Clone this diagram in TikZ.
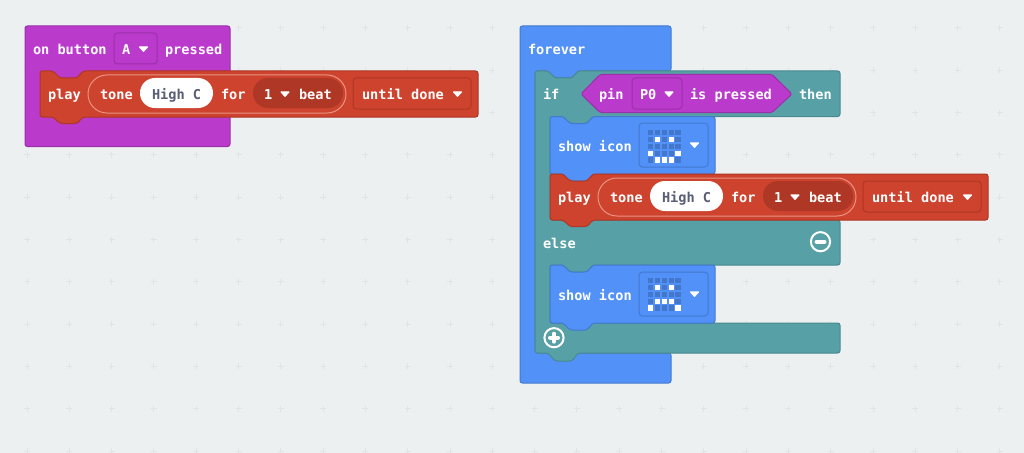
\documentclass[tikz,border=0pt]{standalone}
\usepackage{fontspec}
\newfontfamily\blkfont[Scale=1.0]{DejaVu Sans Mono}
\definecolor{bgc}{HTML}{ECF0F1}
\definecolor{gridc}{HTML}{DFE4E6}
\definecolor{purp}{HTML}{BA3ACB}
\definecolor{purpd}{HTML}{9C30AA}
\definecolor{redb}{HTML}{CD432E}
\definecolor{redd}{HTML}{AE3725}
\definecolor{redl}{HTML}{E89384}
\definecolor{teal2}{HTML}{57A0A6}
\definecolor{teald}{HTML}{488A90}
\definecolor{blueb}{HTML}{5291F7}
\definecolor{blued}{HTML}{4379CF}
\definecolor{ledd}{HTML}{4277CC}
\definecolor{greyt}{HTML}{575E75}
\tikzset{
  lbl/.style={anchor=base west,inner sep=0pt,outer sep=0pt,text=white,font=\blkfont\bfseries\fontsize{10.2pt}{12pt}\selectfont},
  blockshape/.style={rounded corners=1.8pt,line width=.75pt},
  purpblock/.style={blockshape,fill=purp,draw=purpd},
  redblock/.style={blockshape,fill=redb,draw=redd},
  tealblock/.style={blockshape,fill=teal2,draw=teald},
  blueblock/.style={blockshape,fill=blueb,draw=blued},
  ddown/.style={rounded corners=2.6pt,line width=.75pt},
  tri/.style={fill=white,draw=white,line width=1pt,line join=round},
  ring/.style={draw=white,line width=1.5pt},
  stroke/.style={draw=white,line width=3pt,line cap=round},
}
\newcommand{\ddarrow}[2]{\path[tri] (#1-3.8,#2-2) -- (#1+3.8,#2-2) -- (#1,#2+2.2) -- cycle;}
\newcommand{\playblock}[1]{%
  \path[redblock] (40,71) -- (53,71) -- (60,78) -- (77,78) -- (83,71) -- (478,71) -- (478,117) -- (83,117) -- (77,123.5) -- (60,123.5) -- (53,117) -- (40,117) -- cycle;
  \path[fill=redb,draw=redl,line width=.75pt,rounded corners=14.2pt] (88,75) rectangle (346,113);
  \path[fill=white,rounded corners=11.2pt] (140,78) rectangle (213,108);
  \path[fill=redd,rounded corners=11.2pt] (253,78) rectangle (343,108);
  \path[fill=redb,draw=redd,ddown] (353,78) rectangle (471,109);
  \node[lbl] (#1play) at (48,99) {play};
  \node[lbl] (#1tone) at (100,99) {tone};
  \node[lbl,text=greyt] (#1high) at (152,99) {High C};
  \node[lbl] (#1for) at (221,99) {for};
  \node[lbl] (#1one) at (264,99) {1};
  \ddarrow{285}{94}
  \node[lbl] (#1beat) at (299,99) {beat};
  \node[lbl] (#1until) at (362,99) {until done};
  \ddarrow{457.5}{94}
}
\newcommand{\ledcell}[3]{\fill[#3] (648+6.85*#1,#2) rectangle ++(5.2,5.2);}
\newcommand{\ledicon}[3]{% top y, dropdown top, white cells col/row
  \path[fill=blueb,draw=blued,ddown] (639,#2) rectangle (708,#2+44);
  \foreach \r in {0,...,4} \foreach \c in {0,...,4} {\ledcell{\c}{#1+6.85*\r}{ledd}}
  \foreach \c/\r in {#3} {\ledcell{\c}{#1+6.85*\r}{white}}
  \ddarrow{694.5}{#2+22}
}
\begin{document}
\begin{tikzpicture}[x=.75pt,y=-.75pt]
\useasboundingbox (0,0) rectangle (1024,453);
\fill[bgc] (0,0) rectangle (1024,453);
\foreach \i in {0,...,23} \foreach \j in {0,...,10} {
  \pgfmathsetmacro{\gx}{27+42.3*\i}
  \pgfmathsetmacro{\gy}{28+42.3*\j}
  \draw[gridc,line width=.75pt] (\gx-3,\gy) -- (\gx+3,\gy) (\gx,\gy-3) -- (\gx,\gy+3);
}
% on button block
\path[purpblock] (25,26) rectangle (230,146.5);
\path[fill=purp,draw=purpd,ddown] (114,33) rectangle (157,64);
\node[lbl] (onbutton) at (33,54.5) {on button};
\node[lbl] (a) at (122,54.5) {A};
\ddarrow{143.5}{49}
\node[lbl] (pressed) at (165,54.5) {pressed};
\playblock{pa}
% forever block
\path[blueblock] (520,26) -- (671,26) -- (671,71) -- (578,71) -- (572,78) -- (555,78) -- (548,71) -- (535,71) -- (535,353) -- (671,353) -- (671,383) -- (520,383) -- cycle;
\node[lbl] (forever) at (528,54.5) {forever};
% if block
\path[tealblock] (535,71) -- (548,71) -- (555,78) -- (572,78) -- (578,71) -- (840,71) -- (840,116.5) -- (593,116.5) -- (587,123.5) -- (570,123.5) -- (563,116.5) -- (550,116.5) -- (550,220) -- (840,220) -- (840,265) -- (593,265) -- (587,272) -- (570,272) -- (563,265) -- (550,265) -- (550,323) -- (840,323) -- (840,353) -- (578,353) -- (572,361) -- (555,361) -- (548,353) -- (535,353) -- cycle;
\node[lbl] (iflbl) at (543,99) {if};
\path[fill=purp,draw=purpd,line width=.75pt,rounded corners=1.2pt] (581,94) -- (600,74.5) -- (772,74.5) -- (792,94) -- (772,112.5) -- (600,112.5) -- cycle;
\path[fill=purp,draw=purpd,ddown] (632,78) rectangle (682,109);
\node[lbl] (pin) at (599,99) {pin};
\node[lbl] (pzero) at (640,99) {P0};
\ddarrow{669}{94}
\node[lbl] (ispressed) at (690,99) {is pressed};
\node[lbl] (thenlbl) at (799,99) {then};
% show icon 1
\path[blueblock] (550,116.5) -- (563,116.5) -- (570,123.5) -- (587,123.5) -- (593,116.5) -- (715,116.5) -- (715,174) -- (593,174) -- (587,181) -- (570,181) -- (563,174) -- (550,174) -- cycle;
\node[lbl] (showa) at (558,151) {show icon};
\ledicon{130}{123}{1/1,3/1,0/3,4/3,1/4,2/4,3/4}
% play 2
\begin{scope}[shift={(510,103)}]
\playblock{pb}
\end{scope}
% else
\node[lbl] (elselbl) at (543,248) {else};
\draw[ring] (820.5,241.7) circle (7.2pt);
\draw[stroke] (816.5,241.7) -- (824.5,241.7);
% show icon 2
\path[blueblock] (550,265) -- (563,265) -- (570,272) -- (587,272) -- (593,265) -- (715,265) -- (715,323) -- (593,323) -- (587,330) -- (570,330) -- (563,323) -- (550,323) -- cycle;
\node[lbl] (showb) at (558,300) {show icon};
\ledicon{278}{272}{1/1,3/1,1/3,2/3,3/3,0/4,4/4}
% plus
\draw[ring] (554,337.7) circle (7.2pt);
\draw[stroke] (550,337.7) -- (558,337.7) (554,333.7) -- (554,341.7);
\end{tikzpicture}
\end{document}
